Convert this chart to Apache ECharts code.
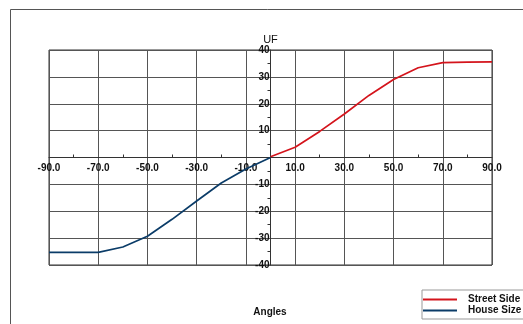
<!DOCTYPE html>
<html>
<head>
<meta charset="utf-8">
<script src="https://cdn.jsdelivr.net/npm/echarts@6/dist/echarts.min.js"></script>
<style>
html,body{margin:0;padding:0;background:#fff;}
#chart{width:523px;height:324px;}
</style>
</head>
<body>
<div id="chart"></div>
<script>
const streetAngles = [0, 10, 20, 30, 40, 50, 60, 70, 80, 90];
const streetSide = [0.3, 3.8, 9.7, 16.2, 23.1, 29.0, 33.4, 35.3, 35.5, 35.6];
const houseAngles = [-90, -80, -70, -60, -50, -40, -30, -20, -10, 0];
const houseSize = [-35.3, -35.3, -35.3, -33.3, -29.3, -23.0, -16.2, -9.5, -4.3, 0];
const seriesNames = ['Street Side', 'House Size'];
const xTitle = 'Angles';
const yTitle = 'UF';

const FONT = "'Liberation Sans', Arial, sans-serif";
const GL = 49, GT = 50, GW = 443, GH = 215;
const chart = echarts.init(document.getElementById('chart'), null, {renderer: 'canvas'});
chart.setOption({
  animation: false,
  backgroundColor: '#ffffff',
  grid: {left: GL, top: GT, width: GW, height: GH, show: true, borderColor: '#333', borderWidth: 1, containLabel: false},
  xAxis: {
    type: 'value', min: -90, max: 90, interval: 20,
    position: 'bottom', offset: -(GH / 2),
    axisLine: {onZero: false, lineStyle: {color: '#333', width: 1}},
    axisTick: {show: false, inside: true},
    minorTick: {show: true, splitNumber: 2, length: 3, lineStyle: {color: '#333'}},
    splitLine: {show: true, lineStyle: {color: '#555', width: 1}},
    axisLabel: {margin: 6, color: '#111', fontFamily: FONT, fontSize: 10, fontWeight: 'bold',
      formatter: v => v.toFixed(1)}
  },
  yAxis: {
    type: 'value', min: -40, max: 40, interval: 10,
    position: 'left', offset: -(GW / 2),
    name: yTitle, nameLocation: 'end', nameGap: 5,
    nameTextStyle: {color: '#111', fontFamily: FONT, fontSize: 11, align: 'center'},
    axisLine: {onZero: false, lineStyle: {color: '#333', width: 1}},
    axisTick: {show: false},
    minorTick: {show: true, splitNumber: 2, length: 3, lineStyle: {color: '#333'}},
    splitLine: {show: true, lineStyle: {color: '#555', width: 1}},
    axisLabel: {margin: 1, color: '#111', fontFamily: FONT, fontSize: 10, fontWeight: 'bold',
      formatter: v => v === 0 ? '' : String(v)}
  },
  legend: {
    orient: 'vertical', left: 422, top: 290,
    padding: [4, 4, 3, 1], itemGap: 0, itemWidth: 34, itemHeight: 2, icon: 'rect',
    borderColor: '#999', borderWidth: 1,
    textStyle: {color: '#111', fontFamily: FONT, fontSize: 10, fontWeight: 'bold', padding: [0, 0, 0, 6], lineHeight: 11},
    data: seriesNames
  },
  graphic: [
    {type: 'rect', left: 8, top: 7, shape: {width: 600, height: 400}, silent: true,
      style: {fill: 'none', stroke: '#555', lineWidth: 1}},
    {type: 'text', x: 270, y: 312, style: {text: xTitle, fill: '#111', font: "bold 10px " + FONT, align: 'center', verticalAlign: 'middle'}}
  ],
  series: [
    {name: seriesNames[0], type: 'line', symbol: 'none', color: '#d4141c', lineStyle: {width: 1.7},
      data: streetAngles.map((a, i) => [a, streetSide[i]])},
    {name: seriesNames[1], type: 'line', symbol: 'none', color: '#0b3c68', lineStyle: {width: 1.7},
      data: houseAngles.map((a, i) => [a, houseSize[i]])}
  ]
});
</script>
</body>
</html>
